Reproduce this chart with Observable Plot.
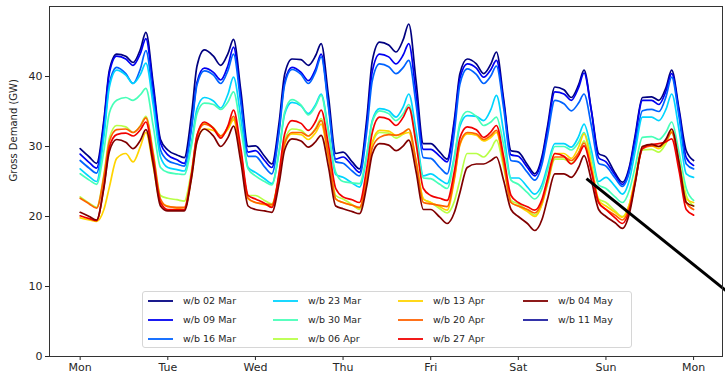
<!DOCTYPE html>
<html><head><meta charset="utf-8">
<script src="https://cdn.jsdelivr.net/npm/d3@7"></script>
<script src="https://cdn.jsdelivr.net/npm/@observablehq/plot@0.6"></script>
<style>
body{margin:0;background:#fff;}
#wrap{position:relative;width:725px;height:383px;font-family:"DejaVu Sans",sans-serif;overflow:hidden;}
#legend{position:absolute;left:142px;top:291px;width:490px;height:57px;border:1px solid #d6d6d6;border-radius:3px;background:rgba(255,255,255,0.85);box-sizing:border-box;}
.item{position:absolute;font-size:9.5px;color:#262626;white-space:nowrap;line-height:12px;}
.item svg{position:absolute;left:0;top:0;}
</style>
</head><body>
<div id="wrap"><div id="chart"></div><div id="legend"></div></div>
<script>
const seriesNames = ["w/b 02 Mar","w/b 09 Mar","w/b 16 Mar","w/b 23 Mar","w/b 30 Mar","w/b 06 Apr","w/b 13 Apr","w/b 20 Apr","w/b 27 Apr","w/b 04 May","w/b 11 May"];
const seriesColors = ["#000080","#0000f1","#0063ff","#00d4ff","#47ffb8","#b8ff47","#ffd400","#ff6300","#f10000","#800000","#1c1ca0"];
const dayLabels = ["Mon","Tue","Wed","Thu","Fri","Sat","Sun","Mon"];
const dayTicks = [0,1,2,3,4,5,6,7];
const yTicks = [0,10,20,30,40];
const yLabel = "Gross Demand (GW)";
// hour of day of each reading (12 per day), last value = following Monday 00:00
const hours = [0,2.5,4.5,6.5,8,10,12.5,14.5,16.5,18,20,22];

const wb02Mar = [
29.7,28.5,27.6,33.8,40.9,43.2,42.9,42.0,43.9,46.3,39.0,31.0,
29.5,28.8,28.4,34.6,41.5,43.8,42.9,41.6,43.3,45.3,38.0,30.0,
30.1,28.6,27.5,33.5,40.3,42.5,42.4,41.6,43.0,44.7,37.2,29.0,
29.2,27.8,26.8,34.0,42.2,44.9,44.5,43.5,45.3,47.5,39.3,30.4,
30.4,29.2,28.2,33.9,40.4,42.5,41.8,40.4,41.8,43.5,36.7,29.4,
29.2,27.4,26.1,28.6,32.9,38.5,38.1,37.0,38.8,40.9,35.2,29.0,
28.5,26.2,24.9,27.3,31.6,37.0,37.1,36.6,38.5,40.9,35.4,29.4,
28.0];
const wb09Mar = [
28.9,27.7,26.9,33.3,40.5,42.9,42.5,41.6,43.3,45.4,38.3,30.5,
28.8,28.1,27.6,33.0,39.2,41.2,40.6,39.5,41.6,44.2,37.0,29.2,
29.4,28.0,27.0,32.7,39.2,41.3,40.6,39.4,41.1,43.2,36.0,28.2,
28.5,27.3,26.3,33.1,40.7,43.2,42.8,41.8,43.1,44.7,37.5,29.6,
29.6,28.6,27.8,33.4,39.7,41.8,41.2,39.9,41.0,42.3,36.2,28.8,
28.6,27.0,25.8,28.2,32.4,37.8,37.5,36.6,38.4,40.5,35.1,28.4,
27.8,25.9,24.6,27.0,31.2,36.6,36.6,36.0,38.0,40.4,35.0,28.4,
27.3];
const wb16Mar = [
28.0,26.9,26.2,32.2,39.0,41.3,40.4,39.0,41.1,43.7,36.9,29.5,
28.0,27.5,27.2,32.6,38.8,40.8,40.2,39.0,40.9,43.2,36.2,28.6,
28.6,27.1,26.1,32.1,38.8,41.0,40.3,39.0,40.7,42.8,35.6,27.8,
27.6,26.5,25.8,32.2,39.4,41.8,41.4,40.4,41.3,42.3,36.0,28.4,
28.3,27.0,26.1,32.1,38.9,41.1,40.3,39.0,40.1,41.5,35.4,28.0,
27.8,26.3,25.2,27.5,31.5,36.6,36.1,35.1,36.2,37.5,33.0,27.6,
27.2,25.5,24.3,26.5,30.2,35.1,35.3,35.0,37.2,39.9,34.3,27.5,
26.8];
const wb23Mar = [
26.8,25.7,25.0,31.4,38.5,40.9,40.2,39.0,40.3,41.9,35.9,28.5,
27.0,26.7,26.5,30.7,35.4,37.0,36.5,35.5,37.5,39.9,34.1,27.0,
26.3,25.4,24.7,29.3,34.6,36.3,35.8,34.7,36.0,37.5,32.3,26.0,
25.6,24.8,24.2,28.7,33.7,35.4,35.1,34.2,35.7,37.5,32.2,25.8,
26.1,25.3,24.7,28.6,32.9,34.4,34.3,33.7,35.3,37.3,32.0,25.5,
25.5,24.2,23.2,24.6,27.2,30.4,30.4,29.9,31.4,33.2,29.5,25.0,
25.6,24.3,23.2,25.4,29.3,34.2,34.2,33.7,35.4,37.5,32.4,26.1,
25.6];
const wb30Mar = [
26.1,25.2,24.6,29.4,34.8,36.6,37.0,36.6,37.4,38.3,32.9,27.0,
26.3,26.1,26.0,30.1,34.7,36.2,36.0,35.3,36.4,37.8,32.5,26.8,
25.8,25.0,24.5,29.4,34.9,36.7,35.9,34.5,35.8,37.3,32.0,26.3,
25.0,24.8,24.7,28.9,33.5,35.1,34.7,33.7,34.7,36.0,31.0,25.5,
25.4,24.6,24.0,28.4,33.4,35.0,34.3,33.0,33.5,34.2,30.2,25.2,
24.6,23.4,22.5,24.0,26.6,30.0,30.0,29.5,30.6,32.0,28.6,24.5,
24.0,22.8,22.0,23.9,27.1,31.3,31.4,31.0,32.1,33.5,29.2,24.0,
22.3];
const wb06Apr = [
22.8,21.9,21.3,26.0,31.2,33.0,32.8,32.0,33.0,34.3,29.2,23.0,
22.6,22.4,22.2,26.6,31.6,33.3,32.7,31.5,32.6,34.0,29.0,23.0,
23.0,22.3,21.8,26.1,30.9,32.5,32.3,31.5,32.6,34.0,29.0,23.0,
22.5,21.7,21.0,25.4,30.4,32.0,31.9,31.2,31.8,32.5,28.0,22.5,
22.0,21.1,20.5,22.2,25.2,29.0,29.0,28.5,29.6,30.9,27.0,22.3,
21.8,20.9,20.2,21.8,24.6,28.2,28.2,27.6,29.0,30.8,27.1,22.5,
22.0,20.8,20.0,21.9,25.2,29.5,29.6,29.2,30.5,32.0,28.0,23.0,
21.5];
const wb13Apr = [
19.8,19.5,19.3,21.0,24.2,28.3,29.0,27.8,30.0,32.0,27.2,22.0,
21.5,21.2,21.0,25.6,30.8,32.5,32.3,31.5,32.5,33.8,28.5,22.5,
22.0,21.7,21.5,25.6,30.3,31.8,31.7,31.0,32.0,33.2,28.3,22.5,
22.0,21.6,21.2,25.6,30.6,32.3,32.2,31.6,31.8,32.0,27.7,22.5,
22.0,21.4,20.9,25.3,30.2,31.8,31.6,30.8,31.3,32.0,27.5,22.0,
21.5,20.7,20.0,21.8,25.0,29.0,29.0,28.3,29.9,31.8,27.5,22.3,
21.5,20.6,19.9,21.9,25.5,30.0,30.1,29.7,30.8,32.2,27.8,22.5,
22.0];
const wb20Apr = [
22.6,21.8,21.2,25.7,30.7,32.4,32.5,32.0,32.9,34.1,28.9,22.5,
21.4,21.3,21.3,26.1,31.4,33.2,32.6,31.5,32.8,34.3,29.0,22.6,
22.0,21.8,21.7,25.8,30.5,32.0,32.0,31.5,32.5,33.7,28.7,22.5,
22.0,21.6,21.3,25.3,29.8,31.3,31.7,31.6,32.0,32.5,27.8,22.0,
21.8,21.6,21.4,25.6,30.4,32.0,31.8,31.0,31.6,32.3,27.7,22.0,
21.5,21.0,20.5,22.1,24.9,28.5,28.5,28.0,29.1,30.5,26.7,22.0,
21.0,20.2,19.5,21.5,25.1,29.7,30.1,30.0,30.9,32.0,27.5,22.0,
21.0];
const wb27Apr = [
20.1,19.7,19.4,24.3,29.9,31.7,31.9,31.5,32.4,33.5,28.3,22.0,
21.0,21.0,21.0,26.0,31.6,33.5,32.6,31.2,33.0,35.2,29.7,23.0,
22.5,21.9,21.3,26.3,31.8,33.7,33.3,32.3,33.6,35.2,30.2,24.0,
22.8,22.4,22.0,26.9,32.0,34.2,33.9,33.0,34.2,35.6,30.4,24.0,
23.0,22.6,22.3,26.5,31.2,32.8,32.4,31.3,32.1,33.0,28.5,23.0,
22.0,21.4,20.9,22.5,25.4,29.0,28.6,27.5,28.7,30.1,26.5,22.0,
21.0,19.8,19.0,21.1,24.9,29.7,30.3,30.4,30.7,31.1,26.6,21.0,
20.2];
const wb04May = [
20.6,20.0,19.5,24.1,29.3,31.0,30.6,29.7,30.9,32.4,27.5,21.5,
20.8,20.8,20.8,25.5,30.7,32.5,31.5,30.0,31.3,32.9,27.8,21.5,
21.0,20.8,20.6,24.8,29.5,31.1,30.8,29.9,30.7,31.6,27.1,21.5,
21.1,20.7,20.4,24.4,28.9,30.4,30.2,29.4,30.1,30.9,26.4,21.0,
21.0,19.9,19.0,20.6,23.4,27.0,27.5,27.5,28.0,28.5,25.1,21.0,
20.0,19.0,18.0,19.6,22.5,26.1,26.1,25.6,27.0,28.7,25.2,21.0,
20.0,19.1,18.3,20.6,24.7,30.0,30.3,30.0,31.1,32.5,27.8,22.0,
21.5];
const wb11May = [];
const seriesValues = [wb02Mar,wb09Mar,wb16Mar,wb23Mar,wb30Mar,wb06Apr,wb13Apr,wb20Apr,wb27Apr,wb04May,wb11May];
// annotation stroke (day, GW) start and end
const annotationLine = [{x1: 5.778, y1: 25.4, x2: 7.55, y2: 7.6}];

const rows = [];
seriesValues.forEach((vals, si) => {
  vals.forEach((v, i) => {
    const day = Math.floor(i / hours.length), k = i % hours.length;
    rows.push({series: seriesNames[si], x: day + hours[k] / 24, y: v});
  });
});

const chart = Plot.plot({
  width: 725, height: 383,
  marginLeft: 49, marginRight: 3, marginTop: 6, marginBottom: 27,
  style: {fontFamily: "DejaVu Sans, sans-serif", fontSize: "11px", color: "#262626", background: "#fff"},
  x: {domain: [-0.35, 7.33]},
  y: {domain: [0, 50]},
  color: {domain: seriesNames, range: seriesColors},
  marks: [
    Plot.line(rows, {x: "x", y: "y", z: "series", stroke: "series", strokeWidth: 1.7, curve: "monotone-x"}),
    Plot.link(annotationLine, {x1: "x1", y1: "y1", x2: "x2", y2: "y2", stroke: "#000", strokeWidth: 3}),
    Plot.axisX({ticks: dayTicks, tickFormat: d => dayLabels[d], label: null, tickSize: 4, tickPadding: 3}),
    Plot.axisY({ticks: yTicks, label: null, tickSize: 4, tickPadding: 3}),
    Plot.text([yLabel], {frameAnchor: "left", rotate: -90, dx: -36, fontSize: 10, fill: "#262626"}),
    Plot.frame({stroke: "#333", strokeWidth: 1})
  ]
});
document.getElementById("chart").appendChild(chart);

// legend
const legend = document.getElementById("legend");
const colLine = [5, 130, 255, 380];
const colText = [40, 165, 290, 415];
const rowY = [9, 28, 47];
seriesNames.forEach((name, i) => {
  const c = Math.floor(i / 3), r = i % 3;
  const item = document.createElement("div");
  item.className = "item";
  item.style.left = colLine[c] + "px";
  item.style.top = (rowY[r] - 6) + "px";
  item.style.height = "12px";
  item.style.width = "110px";
  item.innerHTML = `<svg width="26" height="12"><line x1="0" x2="25" y1="6" y2="6" stroke="${seriesColors[i]}" stroke-width="1.8"/></svg><span style="position:absolute;left:${colText[c]-colLine[c]}px;top:0">${name}</span>`;
  legend.appendChild(item);
});
</script>
</body></html>
